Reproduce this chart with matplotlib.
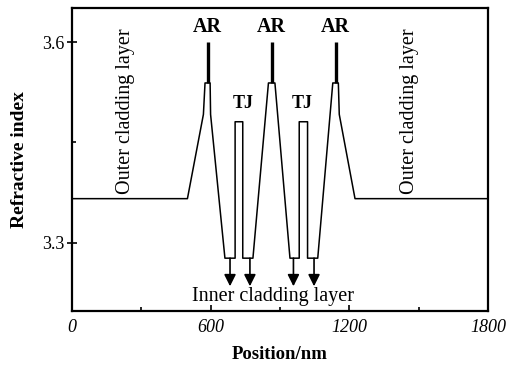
import matplotlib
matplotlib.use('Agg')
import matplotlib.pyplot as plt
from matplotlib.ticker import MultipleLocator

# refractive index profile (position in nm, index)
profile_x = [0, 500, 569, 576, 598, 600, 662, 706, 706, 739, 739, 783, 850, 878,
             943, 983, 983, 1019, 1019, 1063, 1128, 1152, 1156, 1224, 1800]
profile_n = [3.366, 3.366, 3.492, 3.539, 3.539, 3.492, 3.277, 3.277, 3.481, 3.481,
             3.277, 3.277, 3.539, 3.539, 3.277, 3.277, 3.481, 3.481, 3.277, 3.277,
             3.539, 3.539, 3.492, 3.366, 3.366]

# thin active regions drawn as spikes
spike_x = [587, 864, 1140]
spike_base = 3.539
spike_top = 3.6

# arrows pointing to inner cladding layers
arrow_x = [684, 770, 958, 1047]
arrow_from = 3.277
arrow_to = 3.235

tj_x = [741, 997]
outer_x = [231, 1458]

plt.rcParams['font.family'] = ['Liberation Serif', 'DejaVu Serif']

fig = plt.figure(figsize=(5.1, 3.67), dpi=100)
ax = fig.add_axes([0.1406, 0.1526, 0.8169, 0.8254])

ax.plot(profile_x, profile_n, color='black', lw=1.1)
for x in spike_x:
    ax.plot([x, x], [spike_base, spike_top], color='black', lw=2.4, solid_capstyle='butt')
    ax.text(x, 3.623, 'AR', ha='center', va='center', fontsize=14.5, fontweight='bold')

for x in tj_x:
    ax.text(x, 3.509, 'TJ', ha='center', va='center', fontsize=13, fontweight='bold')

for x in arrow_x:
    ax.annotate('', xy=(x, arrow_to), xytext=(x, arrow_from),
                arrowprops=dict(arrowstyle='-|>,head_length=0.5,head_width=0.25',
                                color='black', lw=1.2, mutation_scale=14,
                                shrinkA=0, shrinkB=0))

ax.text(870, 3.219, 'Inner cladding layer', ha='center', va='center', fontsize=14.5)
for x in outer_x:
    ax.text(x, 3.497, 'Outer cladding layer', ha='center', va='center',
            rotation=90, fontsize=14.5)

ax.set_xlim(0, 1800)
ax.set_ylim(3.198, 3.651)
ax.set_xticks([0, 600, 1200, 1800])
ax.set_xticklabels(['0', '600', '1200', '1800'], fontstyle='italic', fontsize=13)
ax.xaxis.set_minor_locator(MultipleLocator(300))
ax.set_yticks([3.3, 3.6])
ax.set_yticklabels(['3.3', '3.6'], fontsize=13)
ax.yaxis.set_minor_locator(MultipleLocator(0.15))

ax.tick_params(axis='x', which='major', direction='in', length=4, width=1.2, pad=6)
ax.tick_params(axis='x', which='minor', direction='in', length=3, width=1.2)
ax.tick_params(axis='y', which='major', direction='inout', length=7, width=1.2, pad=2)
ax.tick_params(axis='y', which='minor', direction='in', length=3, width=1.2)

for s in ax.spines.values():
    s.set_linewidth(1.6)

ax.set_xlabel('Position/nm', fontsize=13.5, fontweight='bold', labelpad=7)
ax.set_ylabel('Refractive index', fontsize=14, fontweight='bold', labelpad=10)

fig.savefig('out.png', dpi=100)
